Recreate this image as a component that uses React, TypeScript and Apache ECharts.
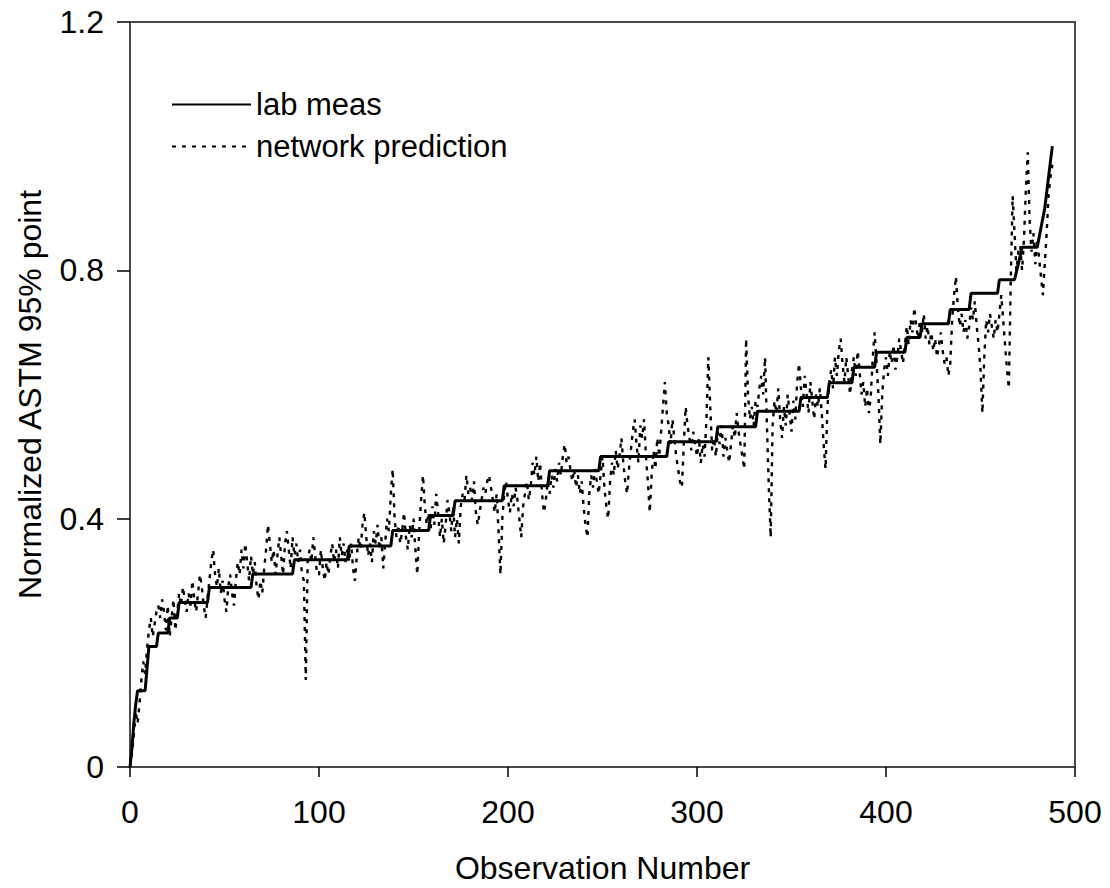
import React, { useEffect, useRef } from "react";
import * as echarts from "echarts";

// Lab measurement: corner points of the step curve (observation number, value)
const labObs = [0, 1, 2, 3, 4, 8, 10, 14, 15, 20, 21, 25, 26, 41, 42, 64, 65, 86, 87, 115, 116, 138, 139, 158, 159, 171, 172, 197, 198, 221, 222, 248, 249, 284, 285, 310, 311, 331, 332, 354, 355, 369, 370, 382, 383, 394, 395, 410, 411, 418, 419, 433, 434, 444, 445, 459, 460, 468, 470, 472, 480, 484, 488];
const labValue = [0, 0.03, 0.07, 0.1, 0.123, 0.123, 0.194, 0.194, 0.216, 0.216, 0.24, 0.24, 0.265, 0.265, 0.289, 0.289, 0.311, 0.311, 0.334, 0.334, 0.356, 0.356, 0.381, 0.381, 0.405, 0.405, 0.429, 0.429, 0.453, 0.453, 0.477, 0.477, 0.5, 0.5, 0.524, 0.524, 0.548, 0.548, 0.573, 0.573, 0.595, 0.595, 0.619, 0.619, 0.644, 0.644, 0.668, 0.668, 0.692, 0.692, 0.714, 0.714, 0.737, 0.737, 0.763, 0.763, 0.785, 0.785, 0.81, 0.837, 0.837, 0.9, 1.0];

// Network prediction, one value per observation (0..488)
const prediction = [
  0.00, 0.02, 0.05, 0.09, 0.07, 0.10, 0.14, 0.17, 0.15, 0.19,
  0.22, 0.24, 0.21, 0.23, 0.25, 0.26, 0.24, 0.27, 0.25, 0.22,
  0.26, 0.21, 0.24, 0.27, 0.22, 0.25, 0.28, 0.26, 0.29, 0.27,
  0.25, 0.28, 0.26, 0.30, 0.27, 0.25, 0.28, 0.31, 0.29, 0.26,
  0.24, 0.27, 0.30, 0.33, 0.35, 0.31, 0.29, 0.32, 0.28, 0.30,
  0.27, 0.25, 0.29, 0.31, 0.28, 0.26, 0.30, 0.33, 0.31, 0.35,
  0.32, 0.36, 0.33, 0.30, 0.34, 0.31, 0.33, 0.29, 0.27, 0.30,
  0.28, 0.32, 0.35, 0.39, 0.36, 0.33, 0.35, 0.31, 0.34, 0.37,
  0.34, 0.31, 0.36, 0.38, 0.35, 0.32, 0.37, 0.34, 0.36, 0.33,
  0.35, 0.31, 0.30, 0.14, 0.33, 0.35, 0.33, 0.37, 0.34, 0.31,
  0.31, 0.35, 0.32, 0.30, 0.33, 0.31, 0.34, 0.36, 0.33, 0.35,
  0.32, 0.37, 0.34, 0.36, 0.33, 0.35, 0.33, 0.36, 0.32, 0.30,
  0.34, 0.37, 0.35, 0.39, 0.41, 0.37, 0.34, 0.36, 0.33, 0.38,
  0.36, 0.39, 0.35, 0.37, 0.32, 0.36, 0.40, 0.38, 0.44, 0.48,
  0.40, 0.37, 0.39, 0.36, 0.38, 0.41, 0.37, 0.35, 0.39, 0.37,
  0.40, 0.35, 0.31, 0.38, 0.43, 0.47, 0.42, 0.39, 0.41, 0.38,
  0.42, 0.39, 0.44, 0.41, 0.37, 0.40, 0.36, 0.39, 0.43, 0.41,
  0.38, 0.42, 0.37, 0.40, 0.36, 0.42, 0.44, 0.43, 0.47, 0.44,
  0.45, 0.43, 0.46, 0.41, 0.39, 0.41, 0.43, 0.45, 0.44, 0.46,
  0.47, 0.45, 0.43, 0.41, 0.44, 0.38, 0.31, 0.40, 0.44, 0.46,
  0.43, 0.41, 0.44, 0.42, 0.45, 0.43, 0.40, 0.37, 0.42, 0.44,
  0.46, 0.43, 0.45, 0.49, 0.47, 0.50, 0.46, 0.49, 0.44, 0.41,
  0.43, 0.46, 0.44, 0.47, 0.45, 0.48, 0.46, 0.49, 0.47, 0.50,
  0.52, 0.49, 0.50, 0.48, 0.46, 0.48, 0.45, 0.47, 0.44, 0.46,
  0.42, 0.39, 0.37, 0.44, 0.47, 0.45, 0.48, 0.46, 0.44, 0.47,
  0.50, 0.45, 0.42, 0.40, 0.46, 0.49, 0.47, 0.51, 0.48, 0.50,
  0.53, 0.49, 0.46, 0.44, 0.48, 0.51, 0.54, 0.56, 0.52, 0.49,
  0.55, 0.53, 0.56, 0.50, 0.46, 0.41, 0.47, 0.51, 0.48, 0.53,
  0.50, 0.54, 0.58, 0.62, 0.57, 0.55, 0.52, 0.56, 0.53, 0.50,
  0.48, 0.46, 0.45, 0.52, 0.58, 0.55, 0.53, 0.51, 0.54, 0.52,
  0.50, 0.53, 0.49, 0.52, 0.50, 0.56, 0.66, 0.58, 0.51, 0.53,
  0.50, 0.54, 0.52, 0.55, 0.50, 0.53, 0.51, 0.49, 0.52, 0.55,
  0.53, 0.57, 0.54, 0.52, 0.50, 0.48, 0.69, 0.60, 0.56, 0.58,
  0.55, 0.59, 0.58, 0.61, 0.63, 0.60, 0.66, 0.55, 0.45, 0.37,
  0.55, 0.59, 0.57, 0.61, 0.56, 0.53, 0.58, 0.55, 0.60, 0.57,
  0.54, 0.59, 0.56, 0.62, 0.65, 0.61, 0.58, 0.63, 0.60, 0.57,
  0.62, 0.59, 0.56, 0.60, 0.58, 0.61, 0.57, 0.52, 0.48, 0.58,
  0.62, 0.64, 0.61, 0.66, 0.63, 0.67, 0.69, 0.65, 0.62, 0.66,
  0.63, 0.60, 0.64, 0.66, 0.63, 0.67, 0.64, 0.60, 0.62, 0.58,
  0.61, 0.57, 0.60, 0.66, 0.70, 0.65, 0.60, 0.52, 0.60, 0.64,
  0.66, 0.63, 0.67, 0.65, 0.68, 0.64, 0.66, 0.69, 0.67, 0.65,
  0.68, 0.71, 0.68, 0.72, 0.70, 0.74, 0.71, 0.69, 0.72, 0.70,
  0.73, 0.69, 0.71, 0.68, 0.70, 0.67, 0.69, 0.66, 0.68, 0.70,
  0.67, 0.65, 0.66, 0.63, 0.65, 0.72, 0.76, 0.79, 0.74, 0.71,
  0.73, 0.70, 0.72, 0.69, 0.71, 0.74, 0.72, 0.75, 0.71, 0.68,
  0.64, 0.57, 0.66, 0.72, 0.70, 0.73, 0.71, 0.69, 0.72, 0.70,
  0.73, 0.76, 0.72, 0.68, 0.64, 0.61, 0.78, 0.92, 0.86, 0.80,
  0.83, 0.84, 0.80, 0.85, 0.93, 0.99, 0.88, 0.83, 0.86, 0.81,
  0.85, 0.82, 0.79, 0.76, 0.81, 0.86, 0.92, 0.95, 0.97,
];

const seriesNames = ["lab meas", "network prediction"];
const xAxisTitle = "Observation Number";
const yAxisTitle = "Normalized ASTM 95% point";

const FONT = "'Liberation Sans', Arial, Helvetica, sans-serif";

export default function App() {
  const ref = useRef<HTMLDivElement>(null);

  useEffect(() => {
    document.body.style.margin = "0";
    if (!ref.current) return;
    const chart = echarts.init(ref.current, undefined, { renderer: "svg" });
    chart.setOption({
      animation: false,
      backgroundColor: "#ffffff",
      textStyle: { fontFamily: FONT, color: "#000" },
      grid: {
        left: 130,
        right: 35,
        top: 22,
        bottom: 121,
        outerBoundsMode: "none",
        containLabel: false,
        show: true,
        borderColor: "#4a4a4a",
        borderWidth: 2,
        backgroundColor: "transparent",
      },
      legend: {
        data: seriesNames,
        orient: "vertical",
        left: 166,
        top: 84,
        itemWidth: 79,
        itemHeight: 14,
        itemGap: 11,
        itemStyle: { opacity: 0 },
        textStyle: { fontSize: 31, color: "#000", fontFamily: FONT },
      },
      xAxis: {
        type: "value",
        min: 0,
        max: 500,
        interval: 100,
        name: xAxisTitle,
        nameLocation: "middle",
        nameGap: 85,
        nameTextStyle: { fontSize: 32, color: "#000", fontFamily: FONT },
        axisLine: { show: false },
        axisTick: { show: true, length: 10, lineStyle: { color: "#000", width: 1.5 } },
        axisLabel: { fontSize: 32, color: "#000", margin: 29, fontFamily: FONT },
        splitLine: { show: false },
      },
      yAxis: {
        type: "value",
        min: 0,
        max: 1.2,
        interval: 0.4,
        name: yAxisTitle,
        nameLocation: "middle",
        nameGap: 84,
        nameTextStyle: { fontSize: 32, color: "#000", fontFamily: FONT },
        axisLine: { show: false },
        axisTick: { show: true, length: 13, lineStyle: { color: "#000", width: 1.5 } },
        axisLabel: { fontSize: 32, color: "#000", margin: 26, fontFamily: FONT },
        splitLine: { show: false },
      },
      series: [
        {
          name: seriesNames[1],
          type: "line",
          data: prediction.map((v, i) => [i, v]),
          symbol: "none",
          lineStyle: { color: "#000", width: 2.4, type: [4, 6] },
          itemStyle: { color: "#000" },
          z: 2,
        },
        {
          name: seriesNames[0],
          type: "line",
          data: labObs.map((x, i) => [x, labValue[i]]),
          symbol: "none",
          lineStyle: { color: "#000", width: 3 },
          itemStyle: { color: "#000" },
          z: 3,
        },
      ],
    });
    return () => chart.dispose();
  }, []);

  return <div ref={ref} style={{ width: 1110, height: 888 }} />;
}
